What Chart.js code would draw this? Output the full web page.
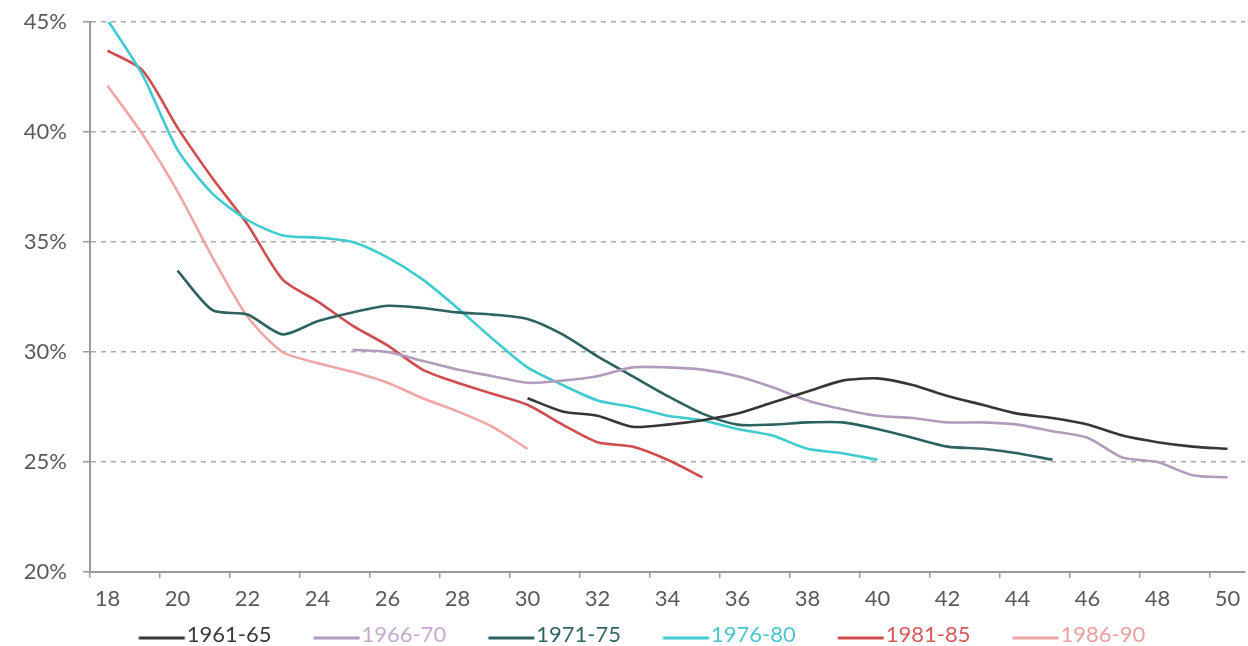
<!DOCTYPE html>
<html>
<head>
<meta charset="utf-8">
<script src="https://cdn.jsdelivr.net/npm/chart.js@4.4.0/dist/chart.umd.min.js"></script>
<style>
  html, body { margin: 0; padding: 0; background: #ffffff; }
  #wrap { width: 1248px; height: 646px; position: relative; }
</style>
</head>
<body>
<div id="wrap"><canvas id="c" width="1248" height="646"></canvas></div>
<script>
// Ages (category axis)
const ages = [18,19,20,21,22,23,24,25,26,27,28,29,30,31,32,33,34,35,36,37,38,39,40,41,42,43,44,45,46,47,48,49,50];

// Series values (%), null where the cohort has no data
const s1961_65 = [null,null,null,null,null,null,null,null,null,null,null,null,
  27.9,27.3,27.1,26.6,26.7,26.9,27.2,27.7,28.2,28.7,28.8,28.5,28.0,27.6,27.2,27.0,26.7,26.2,25.9,25.7,25.6];
const s1966_70 = [null,null,null,null,null,null,null,
  30.1,30.0,29.6,29.2,28.9,28.6,28.7,28.9,29.3,29.3,29.2,28.9,28.4,27.8,27.4,27.1,27.0,26.8,26.8,26.7,26.4,26.1,25.2,25.0,24.4,24.3];
const s1971_75 = [null,null,
  33.7,31.9,31.7,30.8,31.4,31.8,32.1,32.0,31.8,31.7,31.5,30.8,29.8,28.9,28.0,27.2,26.7,26.7,26.8,26.8,26.5,26.1,25.7,25.6,25.4,25.1,
  null,null,null,null,null];
const s1976_80 = [45.1,42.6,39.2,37.2,36.0,35.3,35.2,35.0,34.3,33.3,32.0,30.6,29.3,28.5,27.8,27.5,27.1,26.9,26.5,26.2,25.6,25.4,25.1,
  null,null,null,null,null,null,null,null,null,null];
const s1981_85 = [43.7,42.8,40.2,37.9,35.8,33.3,32.3,31.2,30.3,29.2,28.6,28.1,27.6,26.7,25.9,25.7,25.1,24.3,
  null,null,null,null,null,null,null,null,null,null,null,null,null,null,null];
const s1986_90 = [42.1,39.9,37.3,34.3,31.6,30.0,29.5,29.1,28.6,27.9,27.3,26.6,25.6,
  null,null,null,null,null,null,null,null,null,null,null,null,null,null,null,null,null,null,null,null];

const seriesNames = ['1961-65','1966-70','1971-75','1976-80','1981-85','1986-90'];
const seriesValues = [s1961_65, s1966_70, s1971_75, s1976_80, s1981_85, s1986_90];
const lineColors = ['#363636','#b29cbc','#2c625f','#3fcbcf','#cf4d4f','#eea6a6'];
const textColors = ['#3a3a3a','#c7aad0','#2f6562','#4cc6ca','#d65a5c','#eea0a0'];

// y ticks
const yMin = 20, yMax = 45, yStep = 5;

const FONT = 'Lato, "Open Sans", sans-serif';
const FS = 22;

// legend line sample drawn as a small canvas used as point style
const BOXW = 69;
function makeLineSample(color) {
  const cv = document.createElement('canvas');
  cv.width = 100; cv.height = 12;
  const c = cv.getContext('2d');
  c.strokeStyle = color;
  c.lineWidth = 3;
  c.beginPath();
  const left = 50 - BOXW / 2 + 32;
  c.moveTo(left, 9);
  c.lineTo(left + 46, 9);
  c.stroke();
  return cv;
}

const datasets = seriesNames.map((name, i) => ({
  label: name,
  data: seriesValues[i],
  borderColor: lineColors[i],
  backgroundColor: lineColors[i],
  borderWidth: 2.6,
  pointRadius: 0,
  pointHoverRadius: 0,
  tension: 0.25,
  spanGaps: false,
  fill: false
}));

new Chart(document.getElementById('c'), {
  type: 'line',
  data: { labels: ages, datasets: datasets },
  options: {
    responsive: false,
    animation: false,
    devicePixelRatio: 1,
    layout: { padding: { left: 7, right: 3, top: 22, bottom: -10 } },
    plugins: {
      tooltip: { enabled: false },
      legend: {
        position: 'bottom',
        align: 'center',
        labels: {
          usePointStyle: true,
          pointStyleWidth: BOXW,
          padding: 10,
          font: { family: FONT, size: FS },
          generateLabels(chart) {
            return chart.data.datasets.map((ds, i) => ({
              text: ds.label,
              fontColor: textColors[i],
              fillStyle: ds.borderColor,
              strokeStyle: ds.borderColor,
              lineWidth: 0,
              pointStyle: makeLineSample(ds.borderColor),
              hidden: false,
              datasetIndex: i
            }));
          }
        }
      }
    },
    scales: {
      x: {
        type: 'category',
        offset: true,
        afterFit(scale) { scale.height = 42; scale.paddingLeft = 0; scale.paddingRight = 0; },
        grid: {
          display: true,
          offset: true,
          drawOnChartArea: false,
          drawTicks: true,
          tickLength: 6,
          lineWidth: 1.5,
          color: (ctx) => (ctx.index % 2 === 0 ? '#9a9a9a' : 'rgba(0,0,0,0)')
        },
        border: { display: true, color: '#9a9a9a', width: 2 },
        ticks: {
          autoSkip: false,
          maxRotation: 0,
          padding: 8,
          color: '#5a5a5a',
          font: { family: FONT, size: FS },
          callback: (val, idx) => (idx % 2 === 0 ? String(ages[idx]) : '')
        }
      },
      y: {
        min: yMin,
        max: yMax,
        afterFit(scale) { scale.width = 83; scale.paddingTop = 0; scale.paddingBottom = 0; },
        grid: {
          display: true,
          drawTicks: true,
          tickLength: 7,
          lineWidth: 1.5,
          color: (ctx) => (ctx.tick && ctx.tick.value === yMin ? 'rgba(0,0,0,0)' : '#aaaaaa'),
          tickColor: '#9a9a9a'
        },
        border: { display: true, color: '#9a9a9a', width: 2, dash: [5, 5] },
        ticks: {
          stepSize: yStep,
          padding: 16,
          color: '#5a5a5a',
          font: { family: FONT, size: FS },
          callback: (v) => v + '%'
        }
      }
    }
  }
});
</script>
</body>
</html>
